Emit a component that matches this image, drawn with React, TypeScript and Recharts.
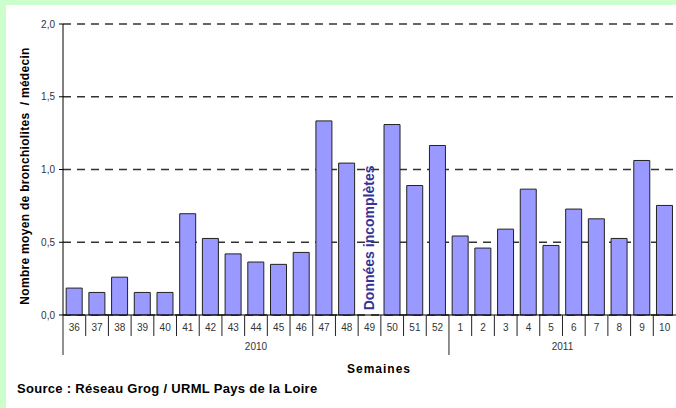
import { Bar, BarChart, CartesianGrid, Customized, ReferenceDot, XAxis, YAxis } from 'recharts';

// semaines et valeurs (nombre moyen de bronchiolites / médecin)
const weeks = ['36', '37', '38', '39', '40', '41', '42', '43', '44', '45', '46', '47', '48', '49', '50', '51', '52', '1', '2', '3', '4', '5', '6', '7', '8', '9', '10'];
const values = [0.185, 0.155, 0.26, 0.155, 0.155, 0.696, 0.526, 0.42, 0.364, 0.348, 0.43, 1.334, 1.044, null, 1.309, 0.89, 1.165, 0.543, 0.46, 0.59, 0.865, 0.478, 0.728, 0.661, 0.526, 1.062, 0.753];
const years = ['2010', '2011'];
const yearWeekCounts = [17, 10];
const yTicks = [0, 0.5, 1, 1.5, 2];

const data = weeks.map((week, i) => ({ week, value: values[i] }));

const W = 676;
const H = 408;
const MARGIN = { top: 24, right: 0, left: 0, bottom: 0 };
const Y_AXIS_W = 63;
const X_AXIS_H = 93;
const STEP = (W - Y_AXIS_W - MARGIN.right - MARGIN.left) / weeks.length;
const FONT = '"Liberation Sans", Arial, sans-serif';

// index of the first week of each year
const groupStarts = yearWeekCounts.map((_, i) => yearWeekCounts.slice(0, i).reduce((a, b) => a + b, 0));

function WeekTick(props: any) {
    const { x, y, payload, index } = props;
    const left = x - STEP / 2;
    const g = groupStarts.indexOf(index);
    return (
        <g>
            <line x1={left} y1={y} x2={left} y2={y + (g >= 0 ? 40 : 21)} stroke="#222" strokeWidth={1} />
            <text x={x} y={y + 16} textAnchor="middle" fontSize={10} fill="#333" fontFamily={FONT}>
                {payload.value}
            </text>
            {g >= 0 && (
                <text x={left + (yearWeekCounts[g] * STEP) / 2} y={y + 35} textAnchor="middle" fontSize={10} fill="#333" fontFamily={FONT}>
                    {years[g]}
                </text>
            )}
        </g>
    );
}

function MissingLabel(props: any) {
    const { x, y } = props.viewBox;
    return (
        <text
            x={x}
            y={y}
            transform={`rotate(-90 ${x} ${y})`}
            textAnchor="middle"
            dominantBaseline="central"
            fontSize={14}
            fontWeight="bold"
            fill="#333399"
            fontFamily={FONT}
        >
            Données incomplètes
        </text>
    );
}

function Titles() {
    return (
        <g fontFamily={FONT} fontWeight="bold" fill="#000">
            <text x={25} y={176} transform="rotate(-90 25 176)" textAnchor="middle" dominantBaseline="central" fontSize={12} letterSpacing={0.3} style={{ whiteSpace: 'pre' }}>
                Nombre moyen de bronchiolites  / médecin
            </text>
            <text x={379} y={373} textAnchor="middle" fontSize={12} letterSpacing={1}>
                Semaines
            </text>
            <text x={17} y={393} fontSize={13} letterSpacing={0.3}>
                Source : Réseau Grog / URML Pays de la Loire
            </text>
        </g>
    );
}

export default function App() {
    return (
        <div style={{ position: 'fixed', left: 0, top: 0, width: W, height: H, background: '#ccffcc' }}>
            <div style={{ position: 'absolute', left: 6, top: 5, right: 0, bottom: 0, background: '#fff' }} />
            <div style={{ position: 'absolute', left: 0, top: 0 }}>
                <BarChart width={W} height={H} data={data} margin={MARGIN} barCategoryGap="14%">
                    <CartesianGrid vertical={false} stroke="#333" strokeWidth={1.5} strokeDasharray="8 6" />
                    <XAxis
                        dataKey="week"
                        height={X_AXIS_H}
                        interval={0}
                        tickSize={0}
                        tickMargin={0}
                        tickLine={false}
                        axisLine={{ stroke: '#000' }}
                        tick={<WeekTick />}
                    />
                    <YAxis
                        width={Y_AXIS_W}
                        domain={[0, 2]}
                        ticks={yTicks}
                        tickFormatter={(v: number) => v.toFixed(1).replace('.', ',')}
                        tickSize={4}
                        tickMargin={4}
                        axisLine={{ stroke: '#000' }}
                        tickLine={{ stroke: '#000' }}
                        tick={{ fontSize: 10, fill: '#333', fontFamily: FONT }}
                    />
                    <Bar dataKey="value" fill="#9999ff" stroke="#222" strokeWidth={1} isAnimationActive={false} />
                    <ReferenceDot x="49" y={0.53} r={0} fill="none" stroke="none" label={<MissingLabel />} />
                    <Customized component={Titles} />
                </BarChart>
            </div>
        </div>
    );
}
